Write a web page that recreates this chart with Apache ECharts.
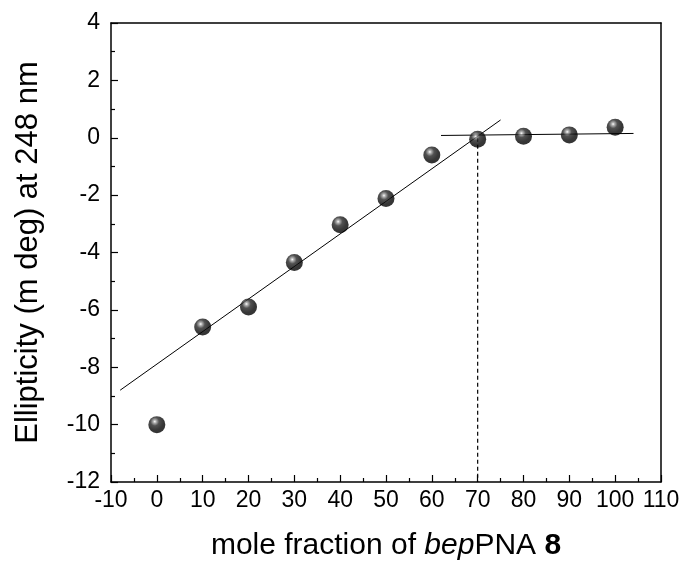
<!DOCTYPE html>
<html><head><meta charset="utf-8">
<script src="https://cdn.jsdelivr.net/npm/echarts@6/dist/echarts.min.js"></script>
<style>html,body{margin:0;padding:0;background:#fff}#c{width:683px;height:566px}</style>
</head><body><div id="c"></div>
<script>
const moleFraction = [0, 10, 20, 30, 40, 50, 60, 70, 80, 90, 100];
const ellipticity = [-10, -6.6, -5.9, -4.35, -3.03, -2.12, -0.6, -0.05, 0.05, 0.1, 0.37];
const fitRising = [[-8, -8.8], [75, 0.62]];
const fitPlateau = [[62, 0.08], [104, 0.15]];
const equivLine = [[70, 0], [70, -12]];

const font = 'Liberation Sans, Arial, sans-serif';
const chart = echarts.init(document.getElementById('c'));
const ball = {
  type: 'radial', x: 0.38, y: 0.32, r: 0.72,
  colorStops: [
    {offset: 0, color: '#ffffff'},
    {offset: 0.12, color: '#a0a0a0'},
    {offset: 0.35, color: '#262626'},
    {offset: 0.7, color: '#050505'},
    {offset: 1, color: '#000'}
  ]
};
const frameLine = {show: true, onZero: false, lineStyle: {color: '#000', width: 1.5}};
chart.setOption({
  animation: false,
  backgroundColor: '#fff',
  grid: {left: 111, right: 22, top: 23, bottom: 83},
  xAxis: [{
    type: 'value', min: -10, max: 110, interval: 10,
    axisLine: frameLine,
    axisTick: {inside: true, length: 7, lineStyle: {color: '#000', width: 1.2}},
    minorTick: {show: true, splitNumber: 2, length: 4, lineStyle: {color: '#000', width: 1.2}},
    splitLine: {show: false},
    axisLabel: {color: '#000', fontSize: 23, fontFamily: font, margin: 7},
    name: '{n|mole fraction of }{i|bep}{n|PNA }{b|8}',
    nameLocation: 'middle', nameGap: 49,
    nameTextStyle: {
      rich: {
        n: {fontSize: 30, fontFamily: font, color: '#000'},
        i: {fontSize: 30, fontFamily: font, fontStyle: 'italic', color: '#000'},
        b: {fontSize: 30, fontFamily: font, fontWeight: 'bold', color: '#000'}
      }
    }
  }, {
    type: 'value', min: -10, max: 110, position: 'top',
    axisLine: frameLine,
    axisTick: {show: false}, axisLabel: {show: false}, splitLine: {show: false}
  }],
  yAxis: [{
    type: 'value', min: -12, max: 4, interval: 2,
    axisLine: frameLine,
    axisTick: {inside: true, length: 7, lineStyle: {color: '#000', width: 1.2}},
    minorTick: {show: true, splitNumber: 2, length: 4, lineStyle: {color: '#000', width: 1.2}},
    splitLine: {show: false},
    axisLabel: {color: '#000', fontSize: 23, fontFamily: font, margin: 11},
    name: 'Ellipticity (m deg) at 248 nm',
    nameLocation: 'middle', nameGap: 67,
    nameTextStyle: {fontSize: 31, fontFamily: font, color: '#000'}
  }, {
    type: 'value', min: -12, max: 4, position: 'right',
    axisLine: frameLine,
    axisTick: {show: false}, axisLabel: {show: false}, splitLine: {show: false}
  }],
  series: [
    {type: 'line', data: fitRising, symbol: 'none', lineStyle: {color: '#000', width: 1}, z: 2},
    {type: 'line', data: fitPlateau, symbol: 'none', lineStyle: {color: '#000', width: 1}, z: 2},
    {type: 'line', data: equivLine, symbol: 'none', lineStyle: {color: '#000', width: 1.2, type: [4, 3]}, z: 2},
    {type: 'scatter', data: moleFraction.map((x, i) => [x, ellipticity[i]]),
     symbol: 'circle', symbolSize: 17, itemStyle: {color: ball}, z: 3}
  ]
});
</script></body></html>
